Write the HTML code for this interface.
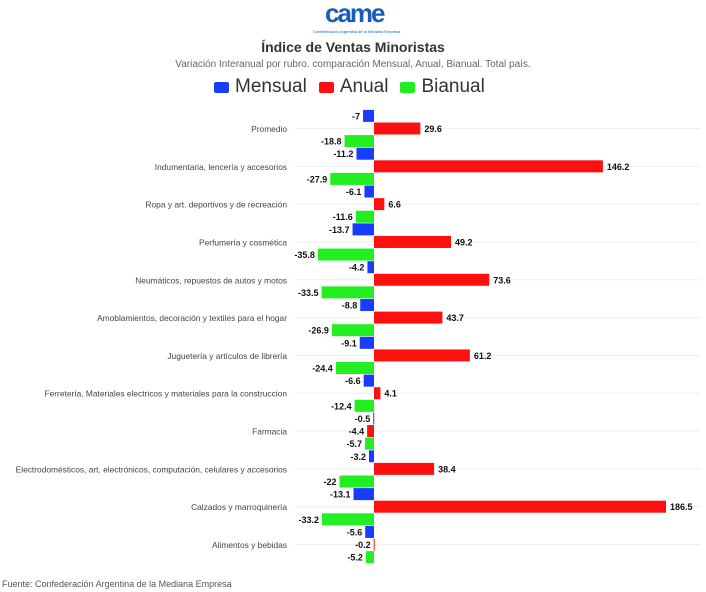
<!DOCTYPE html>
<html><head><meta charset="utf-8"><style>
body{margin:0;width:706px;height:592px;background:#fff;font-family:"Liberation Sans",sans-serif;overflow:hidden;position:relative}
.t{position:absolute;white-space:nowrap}
</style></head><body>
<div class="t" style="left:325px;top:-2px;font:bold 26px 'Liberation Sans',sans-serif;color:#1a5cb8;letter-spacing:-2px">came</div>
<div class="t" style="left:313px;top:29px;font-size:4px;color:#1a5cb8">Confederación Argentina de la Mediana Empresa</div>
<div class="t" style="left:0;width:706px;text-align:center;top:39px;font-weight:bold;font-size:14px;color:#333">Índice de Ventas Minoristas</div>
<div class="t" style="left:0;width:706px;text-align:center;top:59px;font-size:10px;color:#666">Variación Interanual por rubro. comparación Mensual, Anual, Bianual. Total país.</div>
<div class="t" style="left:214px;top:76px;font-size:19px;color:#333;display:flex;align-items:center">
<span style="display:flex;align-items:center"><span style="width:15px;height:11px;background:#1a3cff;border-radius:2px;margin-right:6px"></span>Mensual</span>
<span style="display:flex;align-items:center;margin-left:12px"><span style="width:15px;height:11px;background:#ff1010;border-radius:2px;margin-right:6px"></span>Anual</span>
<span style="display:flex;align-items:center;margin-left:12px"><span style="width:15px;height:11px;background:#22ee22;border-radius:2px;margin-right:6px"></span>Bianual</span>
</div>
<svg id="chart" width="706" height="592" style="position:absolute;left:0;top:0"></svg>
<div class="t" style="left:2px;top:579px;font-size:9px;color:#555">Fuente: Confederación Argentina de la Mediana Empresa</div>
<script>
const categories=["Promedio","Indumentaria, lencería y accesorios","Ropa y art. deportivos y de recreación","Perfumería y cosmética","Neumáticos, repuestos de autos y motos","Amoblamientos, decoración y textiles para el hogar","Juguetería y artículos de librería","Ferretería, Materiales electricos y materiales para la construccion","Farmacia","Electrodomésticos, art. electrónicos, computación, celulares y accesorios","Calzados y marroquinería","Alimentos y bebidas"];
const mensual=[-7,-11.2,-6.1,-13.7,-4.2,-8.8,-9.1,-6.6,-0.5,-3.2,-13.1,-5.6];
const anual=[29.6,146.2,6.6,49.2,73.6,43.7,61.2,4.1,-4.4,38.4,186.5,-0.2];
const bianual=[-18.8,-27.9,-11.6,-35.8,-33.5,-26.9,-24.4,-12.4,-5.7,-22,-33.2,-5.2];
const series=[["mensual",mensual,"#1a3cff"],["anual",anual,"#ff1010"],["bianual",bianual,"#22ee22"]];
const svg=document.getElementById('chart'),NS="http://www.w3.org/2000/svg";
const x0=374,k=292/186.5,xs=v=>x0+v*k;
const catY=i=>128.5+i*37.82;
function mk(t,a){const e=document.createElementNS(NS,t);for(const n in a)e.setAttribute(n,a[n]);svg.appendChild(e);return e;}
categories.forEach((c,i)=>{
 const g=mk('line',{x1:295,x2:700,y1:catY(i),y2:catY(i),stroke:'#eee','stroke-width':1});
 
 
 const t=mk('text',{x:287,y:catY(i)+3.5,'text-anchor':'end','font-size':8.4,fill:'#444','font-family':'Liberation Sans, sans-serif'});
 t.textContent=c;
 
 
 series.forEach(([nm,arr,col],j)=>{
  const v=arr[i],cy=catY(i)+(j-1)*12.6,x=xs(v);
  const r=mk('rect',{x:Math.min(x,x0),y:cy-6,width:Math.max(Math.abs(x-x0),1),height:12,fill:col});
  
  
  const l=mk('text',{x:v<0?Math.min(x,x0)-3:x+4,y:cy+3.5,'text-anchor':v<0?'end':'start','font-size':9,'font-weight':'bold',fill:'#111','font-family':'Liberation Sans, sans-serif'});
  l.textContent=String(v);
  
  
 });
});
</script>
</body></html>
